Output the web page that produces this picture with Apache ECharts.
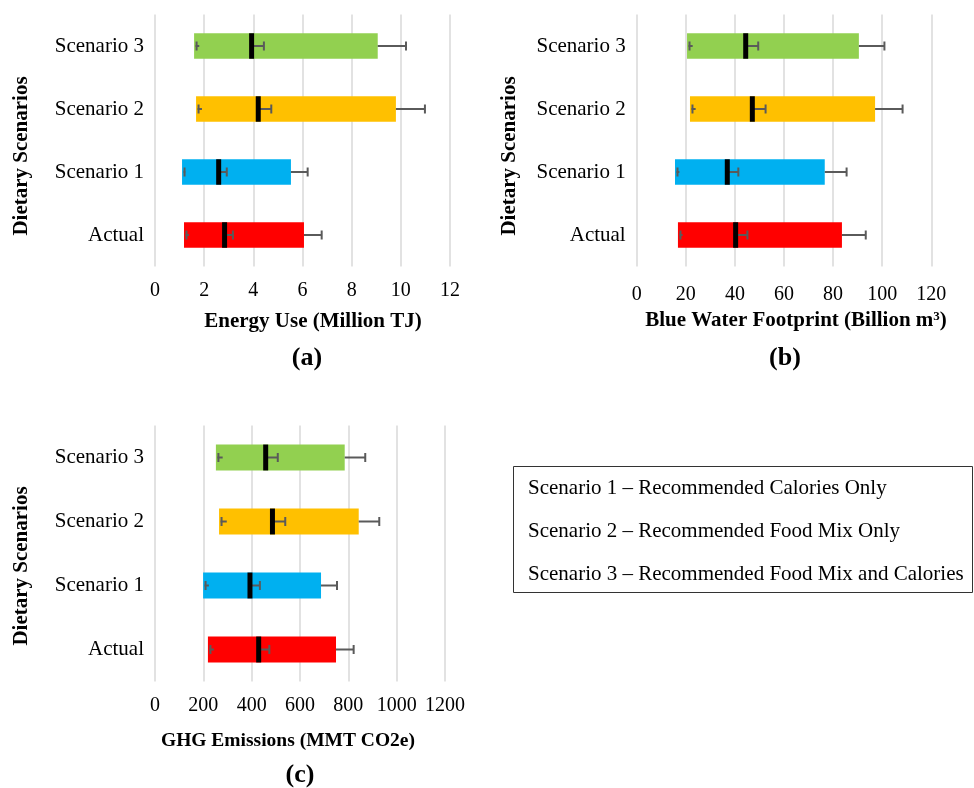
<!DOCTYPE html>
<html><head><meta charset="utf-8">
<script src="https://cdn.jsdelivr.net/npm/echarts@6/dist/echarts.min.js"></script>
<style>html,body{margin:0;padding:0;background:#fff}#c{width:974px;height:788px}</style>
</head><body><div id="c"></div>
<script>
const categories = ['Actual', 'Scenario 1', 'Scenario 2', 'Scenario 3'];
const barColors = ['#FF0000', '#00B0F0', '#FFC000', '#92D050'];

// (a) Energy Use (Million TJ)
const energyMin = [1.18, 1.10, 1.67, 1.59];
const energyLowWhisker = [1.38, 1.23, 1.91, 1.80];
const energyMedian = [2.83, 2.59, 4.20, 3.93];
const energyMedianWhisker = [3.17, 2.92, 4.73, 4.43];
const energyMax = [6.06, 5.53, 9.80, 9.06];
const energyMaxWhisker = [6.78, 6.21, 10.98, 10.21];
const energyTicks = [0, 2, 4, 6, 8, 10, 12];

// (b) Blue Water Footprint (Billion m3)
const waterMin = [16.8, 15.6, 21.7, 20.5];
const waterLowWhisker = [18.7, 17.4, 24.0, 22.8];
const waterMedian = [40.3, 36.9, 47.1, 44.4];
const waterMedianWhisker = [45.1, 41.4, 52.5, 49.5];
const waterMax = [83.6, 76.6, 97.1, 90.5];
const waterMaxWhisker = [93.3, 85.5, 108.3, 100.9];
const waterTicks = [0, 20, 40, 60, 80, 100, 120];

// (c) GHG Emissions (MMT CO2e)
const ghgMin = [219, 199, 265, 252];
const ghgLowWhisker = [244, 223, 297, 280];
const ghgMedian = [429, 393, 486, 458];
const ghgMedianWhisker = [473, 434, 539, 508];
const ghgMax = [749, 687, 843, 785];
const ghgMaxWhisker = [822, 753, 928, 870];
const ghgTicks = [0, 200, 400, 600, 800, 1000, 1200];

const legendLines = [
  'Scenario 1 \u2013 Recommended Calories Only',
  'Scenario 2 \u2013 Recommended Food Mix Only',
  'Scenario 3 \u2013 Recommended Food Mix and Calories'
];

const FONT = '"Liberation Serif", "Times New Roman", serif';
const ERR = '#5a5a5a';

function makeSeries(idx, mins, lows, meds, medW, maxs, maxW) {
  const data = categories.map((c, i) => [i, mins[i], lows[i], meds[i], medW[i], maxs[i], maxW[i]]);
  return {
    type: 'custom',
    xAxisIndex: idx, yAxisIndex: idx,
    data: data,
    encode: { x: [1, 2, 3, 4, 5, 6], y: 0 },
    renderItem: function (params, api) {
      const ci = api.value(0);
      const px = k => api.coord([api.value(k), ci])[0];
      const yc = api.coord([api.value(1), ci])[1];
      const band = api.size([0, 1])[1];
      const h = band * 0.405;
      const x0 = px(1), xl = px(2), xm = px(3), xmw = px(4), xM = px(5), xMw = px(6);
      const capH = 9;
      const line = (a, b) => ({ type: 'line', shape: { x1: a, y1: yc, x2: b, y2: yc }, style: { stroke: ERR, lineWidth: 2 } });
      const cap = (x) => ({ type: 'line', shape: { x1: x, y1: yc - capH / 2, x2: x, y2: yc + capH / 2 }, style: { stroke: ERR, lineWidth: 2 } });
      return {
        type: 'group',
        children: [
          { type: 'rect', shape: { x: x0, y: yc - h / 2, width: xM - x0, height: h }, style: { fill: barColors[ci] } },
          line(x0 + 1.5, xl), cap(x0 + 2.5),
          line(xm, xmw), cap(xmw),
          line(xM, xMw), cap(xMw),
          { type: 'rect', shape: { x: xm - 2.5, y: yc - h / 2, width: 5, height: h }, style: { fill: '#000' } }
        ]
      };
    }
  };
}

function xAxisFor(idx, ticks, margin) {
  return {
    type: 'value', gridIndex: idx,
    min: ticks[0], max: ticks[ticks.length - 1], interval: ticks[1] - ticks[0],
    axisLine: { show: false }, axisTick: { show: false },
    splitLine: { show: true, lineStyle: { color: '#d9d9d9', width: 1.5 } },
    axisLabel: { fontFamily: FONT, fontSize: 20, color: '#000', margin: margin, formatter: v => String(v) }
  };
}
function yAxisFor(idx) {
  return {
    type: 'category', gridIndex: idx, data: categories,
    axisLine: { show: false }, axisTick: { show: false }, splitLine: { show: false },
    axisLabel: { fontFamily: FONT, fontSize: 21, color: '#000', margin: 11, interval: 0 }
  };
}

function text(x, y, str, opts) {
  return {
    type: 'text', x: x, y: y,
    style: Object.assign({ text: str, fontFamily: FONT, fill: '#000', align: 'center', verticalAlign: 'middle' }, opts || {})
  };
}

const chart = echarts.init(document.getElementById('c'), null, { renderer: 'canvas' });
chart.setOption({
  animation: false,
  backgroundColor: '#fff',
  grid: [
    { left: 155, top: 14.5, width: 295, height: 252 },
    { left: 636.7, top: 14.5, width: 294.6, height: 252 },
    { left: 155, top: 425.5, width: 290, height: 256 }
  ],
  xAxis: [xAxisFor(0, energyTicks, 14), xAxisFor(1, waterTicks, 18), xAxisFor(2, ghgTicks, 14)],
  yAxis: [yAxisFor(0), yAxisFor(1), yAxisFor(2)],
  series: [
    makeSeries(0, energyMin, energyLowWhisker, energyMedian, energyMedianWhisker, energyMax, energyMaxWhisker),
    makeSeries(1, waterMin, waterLowWhisker, waterMedian, waterMedianWhisker, waterMax, waterMaxWhisker),
    makeSeries(2, ghgMin, ghgLowWhisker, ghgMedian, ghgMedianWhisker, ghgMax, ghgMaxWhisker)
  ],
  graphic: [
    text(313, 322, 'Energy Use (Million TJ)', { fontSize: 21, fontWeight: 'bold' }),
    text(307, 358, '(a)', { fontSize: 26, fontWeight: 'bold' }),
    {
      type: 'text', x: 796, y: 321,
      style: {
        text: '{b|Blue Water Footprint (Billion m}{s|3}{b|)}',
        align: 'center', verticalAlign: 'middle',
        rich: {
          b: { fontFamily: FONT, fontSize: 21, fontWeight: 'bold', fill: '#000', color: '#000' },
          s: { fontFamily: FONT, fontSize: 13, fontWeight: 'bold', fill: '#000', color: '#000', verticalAlign: 'top', padding: [0, 0, 8, 0] }
        }
      }
    },
    text(785, 358, '(b)', { fontSize: 26, fontWeight: 'bold' }),
    text(288, 741, 'GHG Emissions (MMT CO2e)', { fontSize: 19.5, fontWeight: 'bold' }),
    text(300, 775, '(c)', { fontSize: 26, fontWeight: 'bold' }),
    Object.assign(text(22, 156, 'Dietary Scenarios', { fontSize: 21, fontWeight: 'bold' }), { rotation: Math.PI / 2 }),
    Object.assign(text(510, 156, 'Dietary Scenarios', { fontSize: 21, fontWeight: 'bold' }), { rotation: Math.PI / 2 }),
    Object.assign(text(22, 566, 'Dietary Scenarios', { fontSize: 21, fontWeight: 'bold' }), { rotation: Math.PI / 2 }),
    {
      type: 'rect', shape: { x: 513.5, y: 466.5, width: 459, height: 126 },
      style: { fill: '#fff', stroke: '#333', lineWidth: 1 }
    },
    text(528, 488, legendLines[0], { fontSize: 21, align: 'left' }),
    text(528, 531, legendLines[1], { fontSize: 21, align: 'left' }),
    text(528, 574, legendLines[2], { fontSize: 21, align: 'left' })
  ]
});
</script>
</body></html>
